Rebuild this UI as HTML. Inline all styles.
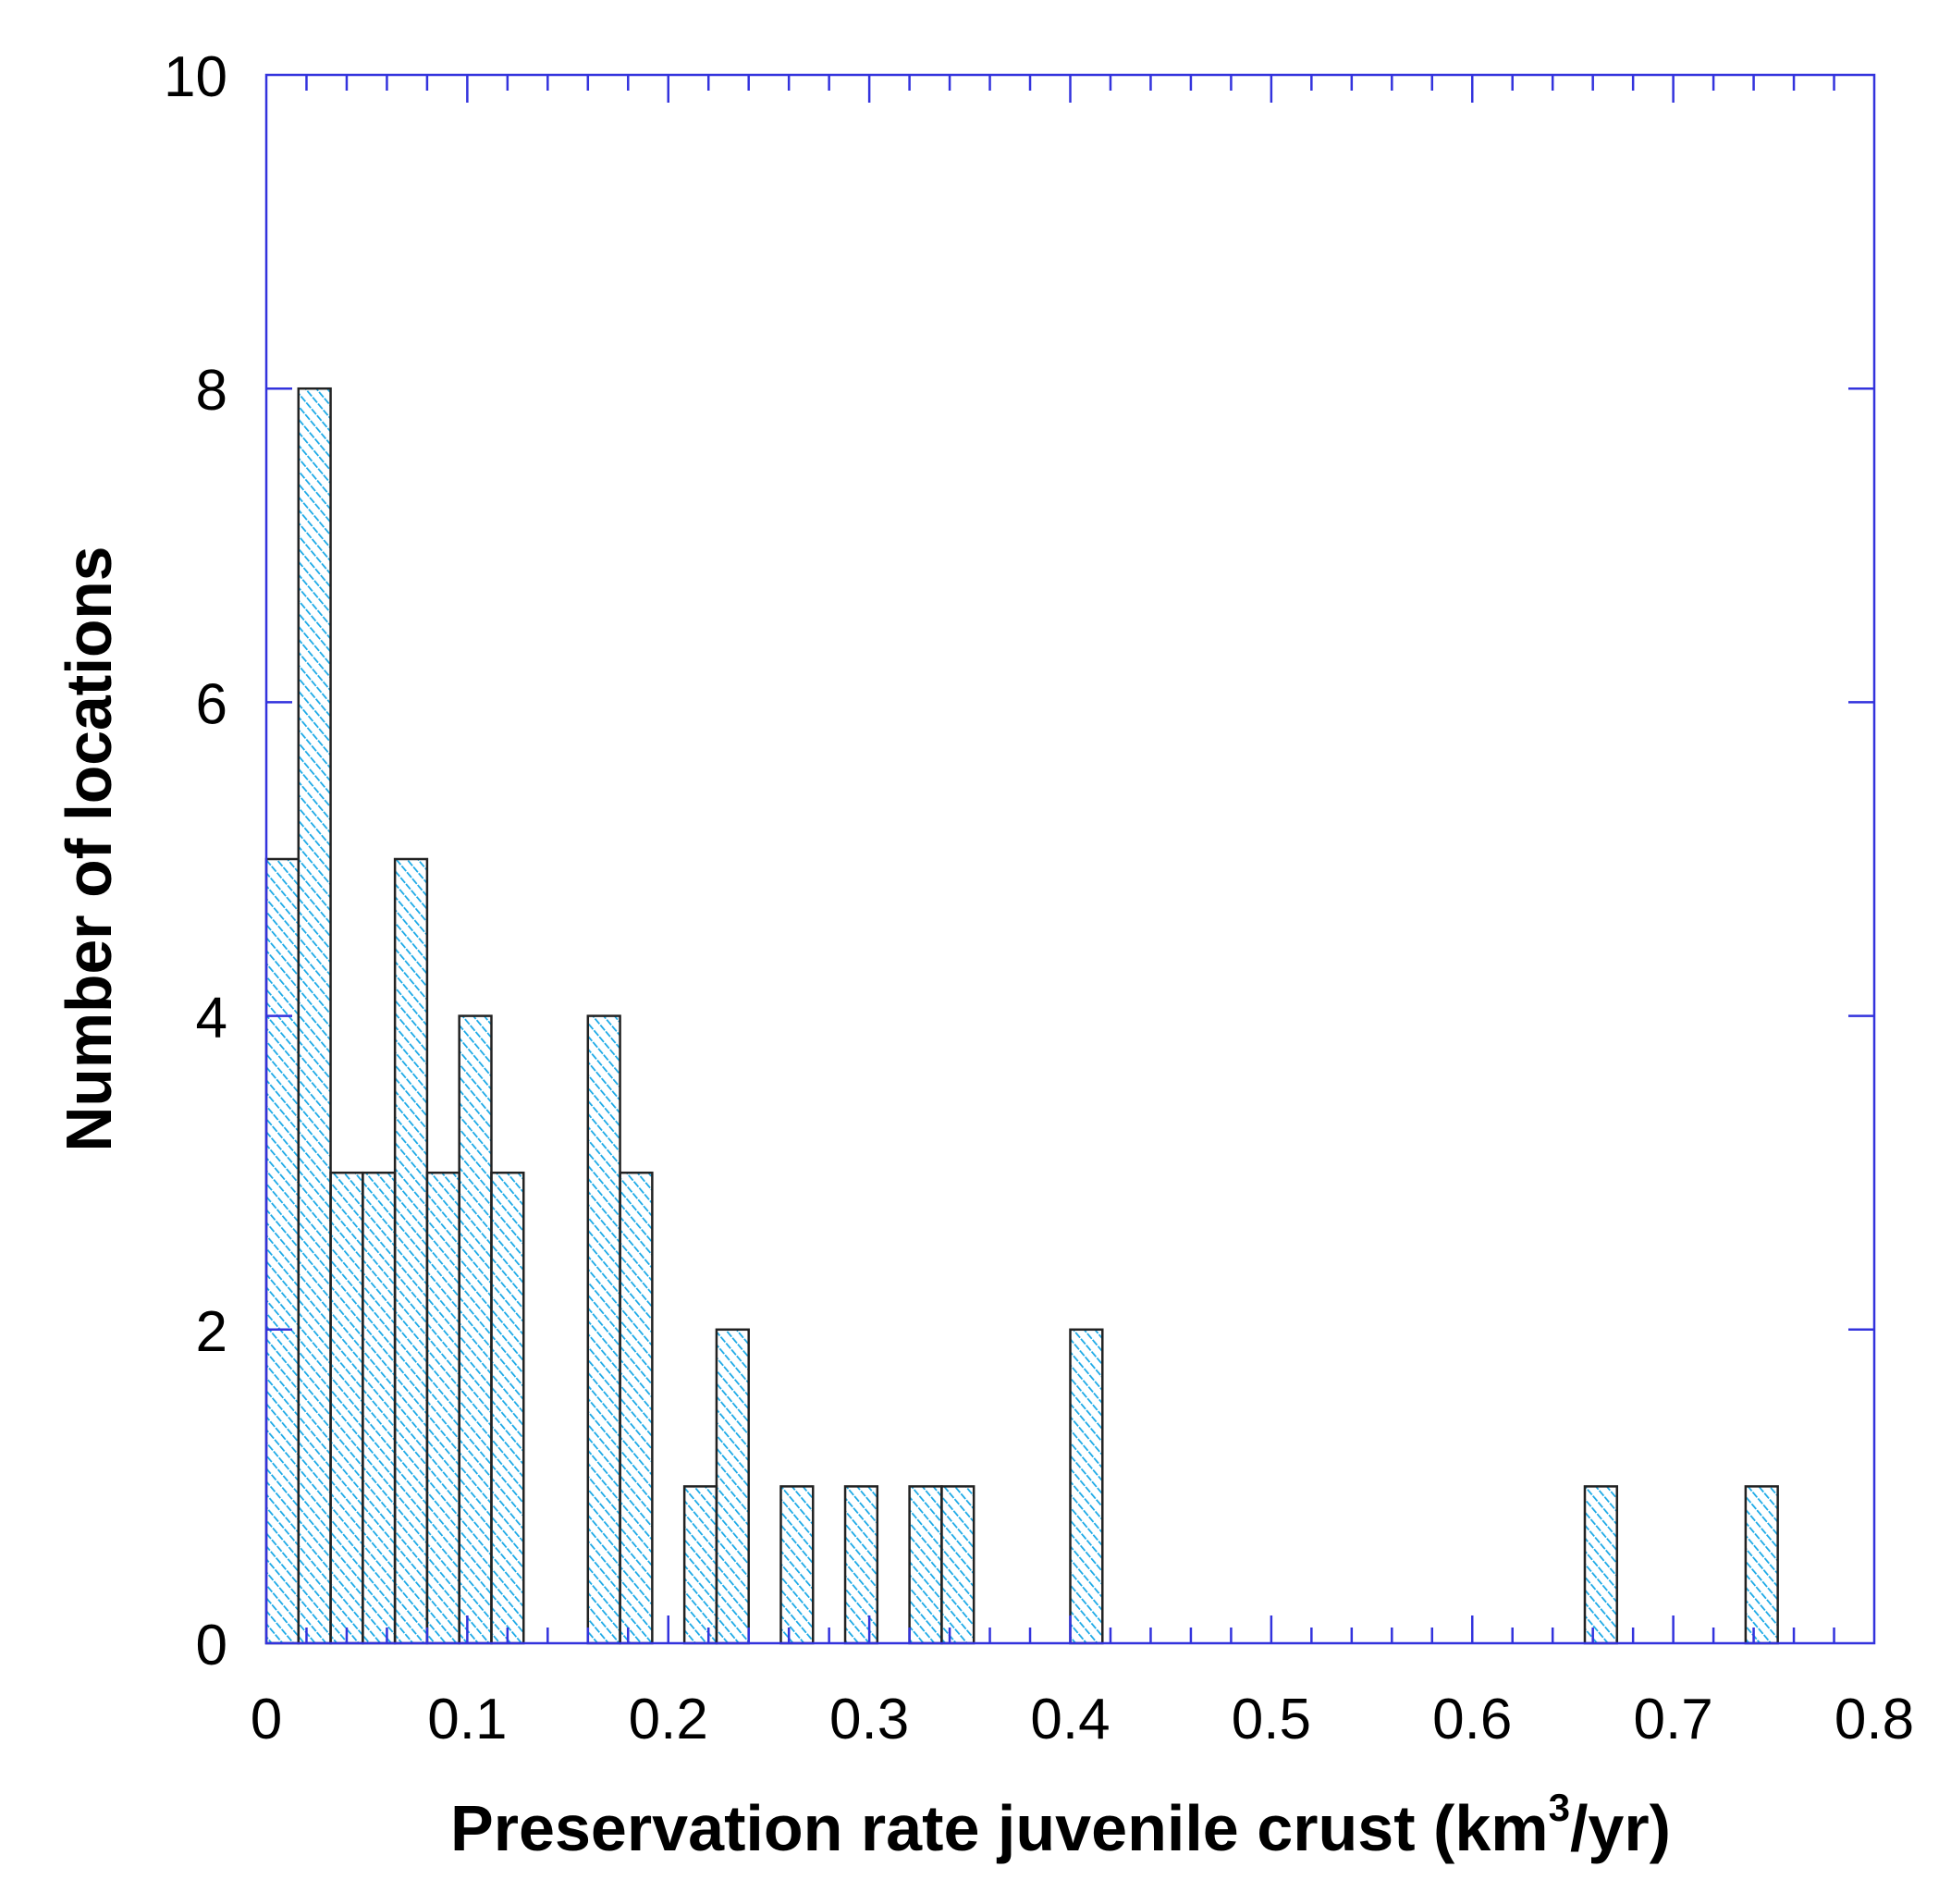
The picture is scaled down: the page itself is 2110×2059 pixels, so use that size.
<!DOCTYPE html>
<html><head><meta charset="utf-8"><style>
html,body{margin:0;padding:0;background:#fff}
svg{display:block}
text{font-family:"Liberation Sans",sans-serif;fill:#000}
</style></head><body>
<svg id="chart" width="2110" height="2059" viewBox="0 0 2110 2059" xmlns="http://www.w3.org/2000/svg">
<defs>
<pattern id="hatch" patternUnits="userSpaceOnUse" width="9" height="9" patternTransform="rotate(-40)">
<line x1="0" y1="0" x2="0" y2="9" stroke="#18a8e6" stroke-width="3.5" stroke-dasharray="5 1.5"/>
</pattern>
</defs>
<g id="bars"></g>
<g id="axes"></g>
<text x="1147" y="2001" text-anchor="middle" font-weight="bold" font-size="70" textLength="1320" lengthAdjust="spacingAndGlyphs">Preservation rate juvenile crust (km<tspan font-size="42" dy="-32">3</tspan><tspan dy="32">/yr)</tspan></text>
<text transform="translate(120,918) rotate(-90)" text-anchor="middle" font-weight="bold" font-size="70" textLength="655" lengthAdjust="spacingAndGlyphs">Number of locations</text>
</svg>
<script>
const binWidth = 0.016;
const counts = [5,8,3,3,5,3,4,3,0,0,4,3,0,1,2,0,1,0,1,0,1,1,0,0,0,2,0,0,0,0,0,0,0,0,0,0,0,0,0,0,0,1,0,0,0,0,1,0,0,0];
const xTicks = [0,0.1,0.2,0.3,0.4,0.5,0.6,0.7,0.8];
const xTickLabels = ["0","0.1","0.2","0.3","0.4","0.5","0.6","0.7","0.8"];
const yTicks = [0,2,4,6,8,10];
const yTickLabels = ["0","2","4","6","8","10"];

const L=288,R=2027,T=81,B=1777;
const xMin=0,xMax=0.8,yMin=0,yMax=10;
const sx=v=>L+(v-xMin)/(xMax-xMin)*(R-L);
const sy=v=>B-(v-yMin)/(yMax-yMin)*(B-T);
const NS="http://www.w3.org/2000/svg";
function mk(tag,attrs,parent){const e=document.createElementNS(NS,tag);for(const k in attrs)e.setAttribute(k,attrs[k]);parent.appendChild(e);return e;}
const bars=document.getElementById('bars');
counts.forEach((c,i)=>{
  if(c<=0)return;
  const x0=sx(i*binWidth),x1=sx((i+1)*binWidth);
  const r=mk('rect',{x:x0,y:sy(c),width:x1-x0,height:sy(0)-sy(c),fill:'url(#hatch)',stroke:'#222','stroke-width':2.5},bars);
  
  
});
const ax=document.getElementById('axes');
const col='#3333dd';
const frame=mk('rect',{x:L,y:T,width:R-L,height:B-T,fill:'none',stroke:col,'stroke-width':2.5},ax);


for(let k=1;k<40;k++){
  const v=k*0.02;const x=sx(v);const major=(k%5===0);const len=major?30:17;
  mk('line',{x1:x,y1:T,x2:x,y2:T+len,stroke:col,'stroke-width':2.5},ax);
  mk('line',{x1:x,y1:B,x2:x,y2:B-len,stroke:col,'stroke-width':2.5},ax);
}
xTicks.forEach((v,i)=>{
  const t=mk('text',{x:sx(v),y:1880,'text-anchor':'middle','font-size':62},ax);
  t.textContent=xTickLabels[i];
  
  
});
yTicks.forEach((v,i)=>{
  const y=sy(v);
  if(v>yMin&&v<yMax){
    mk('line',{x1:L,y1:y,x2:L+28,y2:y,stroke:col,'stroke-width':2.5},ax);
    mk('line',{x1:R,y1:y,x2:R-28,y2:y,stroke:col,'stroke-width':2.5},ax);
  }
  const t=mk('text',{x:246,y:y+23,'text-anchor':'end','font-size':62},ax);
  t.textContent=yTickLabels[i];
  
  
});
</script>
</body></html>
